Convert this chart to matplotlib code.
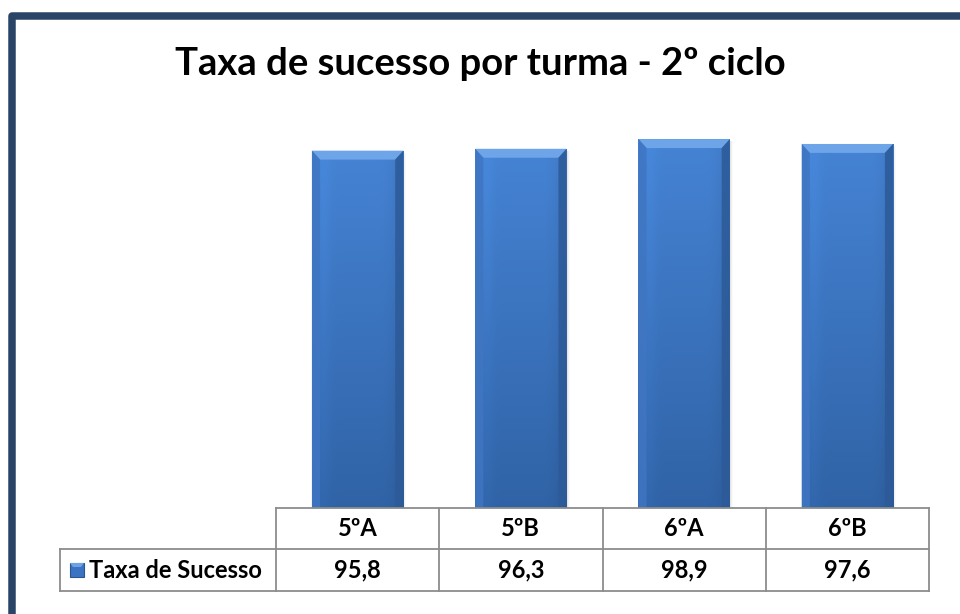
import matplotlib
matplotlib.use('Agg')
import matplotlib.pyplot as plt
import numpy as np
from matplotlib.patches import Rectangle, Polygon
from matplotlib.lines import Line2D
from matplotlib.colors import to_rgb

# ---- data ----
categories = ['5ºA', '5ºB', '6ºA', '6ºB']
values = [95.8, 96.3, 98.9, 97.6]
series_name = 'Taxa de Sucesso'
title = 'Taxa de sucesso por turma - 2º ciclo'

FONT = ['Lato', 'DejaVu Sans']
plt.rcParams['font.family'] = FONT

W, H = 960, 614
fig = plt.figure(figsize=(W / 100, H / 100), dpi=100)
fig.patch.set_facecolor('white')

def fx(px):
    return px / W

def fy(py):
    return 1 - py / H

# outer frame
fig.add_artist(Rectangle((fx(11.5), fy(700)), fx(1100), (700 - 15.5) / H,
                         transform=fig.transFigure, fill=False,
                         edgecolor='#2a4467', linewidth=5.4, joinstyle='round'))

# title
fig.text(0.5, fy(64), title, ha='center', va='center', fontsize=27.5,
         fontweight='bold', color='black')

# plot axes
tab_left, col0, tab_right = 60, 276, 929
ax_top, ax_bot = 135, 508
ax = fig.add_axes([fx(col0), fy(ax_bot), fx(tab_right) - fx(col0), (ax_bot - ax_top) / H])
ax.set_xlim(-0.5, len(categories) - 0.5)
ax.set_ylim(0, 100)
ax.axis('off')

bw = 0.56
xs = np.arange(len(categories))
bars = ax.bar(xs, values, width=bw, color='#3a72c0', linewidth=0, zorder=2)

c_top = np.array(to_rgb('#4583d4'))
c_bot = np.array(to_rgb('#3063a6'))
ny, nx = 300, 80
t = np.linspace(1, 0, ny)[:, None]
u = np.linspace(0, 1, nx)[None, :]
base = c_bot[None, None, :] * (1 - t[..., None]) + c_top[None, None, :] * t[..., None]
shade = 1 - 0.08 * np.clip((u - 0.75) / 0.25, 0, 1) ** 1.5 + 0.04 * np.exp(-((u - 0.12) / 0.08) ** 2)
img = np.clip(base * shade[..., None], 0, 1)

bx = 0.05    # bevel width in data x
by = 2.4     # bevel height in data y
for b in bars:
    x0 = b.get_x(); x1 = x0 + b.get_width(); y1 = b.get_height()
    # soft shadow
    for k, a in enumerate([0.05, 0.035, 0.02]):
        ax.add_patch(Rectangle((x0 + 0.006 * (k + 1), -0.3), b.get_width(), y1 - 0.2,
                               facecolor='black', alpha=a, linewidth=0, zorder=1))
    im = ax.imshow(img, extent=[x0, x1, 0, y1], aspect='auto', zorder=3,
                   interpolation='bilinear')
    im.set_clip_path(b)
    # top bevel
    ax.add_patch(Polygon([[x0, y1], [x1, y1], [x1 - bx, y1 - by], [x0 + bx, y1 - by]],
                         closed=True, facecolor='#6ea4e8', linewidth=0, zorder=4))
    # left bevel
    ax.add_patch(Polygon([[x0, y1], [x0 + bx, y1 - by], [x0 + bx, 0], [x0, 0]],
                         closed=True, facecolor='#4076c2', alpha=0.85, linewidth=0, zorder=4))
    # right bevel
    ax.add_patch(Polygon([[x1, y1], [x1 - bx, y1 - by], [x1 - bx, 0], [x1, 0]],
                         closed=True, facecolor='#2d5a98', alpha=0.85, linewidth=0, zorder=4))

# ---- data table ----
lc = '#8c8c8c'
lw = 1.3
r0, r1, r2 = 508, 549, 591
ncol = len(categories)
col_edges = [col0 + (tab_right - col0) * i / ncol for i in range(ncol + 1)]

def hline(x0, x1, y):
    fig.add_artist(Line2D([fx(x0), fx(x1)], [fy(y), fy(y)], transform=fig.transFigure,
                          color=lc, linewidth=lw))

def vline(x, y0, y1):
    fig.add_artist(Line2D([fx(x), fx(x)], [fy(y0), fy(y1)], transform=fig.transFigure,
                          color=lc, linewidth=lw))

hline(col0, tab_right, r0)
hline(tab_left, tab_right, r1)
hline(tab_left, tab_right, r2)
for i, xe in enumerate(col_edges):
    vline(xe, r0, r2)
vline(tab_left, r1, r2)

fs = 17
for i, (c, v) in enumerate(zip(categories, values)):
    xc = (col_edges[i] + col_edges[i + 1]) / 2
    fig.text(fx(xc), fy((r0 + r1) / 2), c, ha='center', va='center',
             fontsize=fs, fontweight='bold')
    fig.text(fx(xc), fy((r1 + r2) / 2), f'{v:.1f}'.replace('.', ','), ha='center',
             va='center', fontsize=fs, fontweight='bold')

# legend key + label
fig.add_artist(Rectangle((fx(70), fy(577)), fx(14), 14 / H, transform=fig.transFigure,
                         facecolor='#3a73c2', edgecolor='#2a5590', linewidth=0.8))
fig.add_artist(Polygon([[fx(70), fy(563)], [fx(84), fy(563)], [fx(81), fy(567)], [fx(73), fy(567)]],
                       closed=True, transform=fig.transFigure, facecolor='#6da3e6', linewidth=0))
fig.text(fx(89), fy((r1 + r2) / 2), series_name, ha='left', va='center',
         fontsize=fs, fontweight='bold')

fig.savefig('out.png', dpi=100, facecolor='white')
